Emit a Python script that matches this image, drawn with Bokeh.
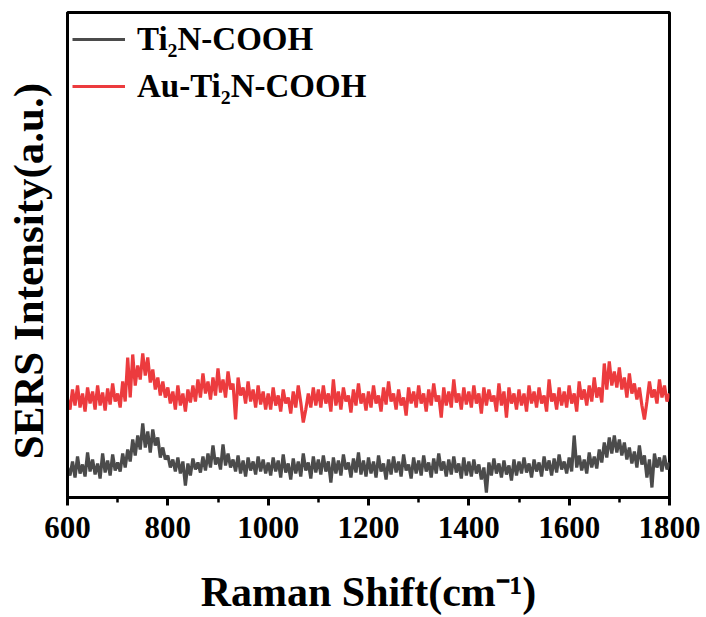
from bokeh.plotting import figure
from bokeh.models import Range1d, SingleIntervalTicker, FixedTicker, Legend, LegendItem
from bokeh.embed import file_html
from bokeh.resources import INLINE

# Raman shift grid (cm^-1), every 5 cm^-1 from 600 to 1800
raman_shift = list(range(600, 1805, 5))

# Ti2N-COOH (gray), arbitrary intensity units
ti2n_cooh = [
    30, 22, 36, 20, 41, 24, 33, 21, 45, 26, 38, 23, 34, 19, 44, 25, 37, 22, 43, 27,
    35, 26, 44, 30, 48, 36, 58, 42, 62, 48, 74, 50, 66, 45, 68, 52, 60, 40, 50, 38,
    42, 30, 38, 26, 40, 24, 36, 12, 34, 22, 39, 28, 35, 25, 41, 27, 44, 30, 52, 33,
    40, 28, 53, 32, 44, 30, 38, 26, 42, 24, 37, 21, 40, 27, 36, 23, 41, 26, 38, 24,
    35, 22, 40, 26, 37, 20, 43, 25, 34, 18, 39, 24, 36, 21, 44, 27, 35, 19, 41, 25,
    38, 23, 42, 26, 36, 15, 40, 24, 37, 22, 43, 28, 35, 20, 39, 25, 45, 23, 37, 21,
    40, 24, 36, 20, 42, 26, 34, 18, 38, 23, 41, 25, 36, 21, 43, 27, 33, 19, 40, 24,
    37, 22, 42, 26, 35, 20, 39, 24, 44, 27, 36, 21, 38, 23, 41, 25, 34, 19, 40, 22,
    36, 21, 38, 24, 33, 18, 30, 5, 35, 22, 39, 24, 34, 20, 37, 23, 32, 17, 38, 22,
    36, 24, 40, 25, 34, 20, 38, 26, 35, 21, 41, 27, 37, 22, 39, 25, 43, 28, 36, 24,
    40, 26, 62, 30, 42, 27, 38, 24, 45, 30, 41, 29, 48, 35, 55, 40, 60, 44, 62, 45,
    58, 42, 55, 38, 50, 34, 46, 30, 52, 33, 42, 20, 38, 10, 44, 30, 40, 26, 42, 28,
    35,
]

# Au-Ti2N-COOH (red), arbitrary intensity units
au_ti2n_cooh = [
    98, 88, 108, 92, 112, 90, 104, 86, 110, 94, 106, 88, 112, 92, 105, 87, 109, 93, 114, 96,
    104, 90, 116, 96, 140, 100, 143, 112, 132, 118, 144, 122, 140, 115, 128, 108, 120, 102, 116, 100,
    110, 94, 106, 88, 112, 92, 104, 86, 108, 95, 112, 96, 118, 100, 124, 104, 116, 98, 120, 102,
    129, 105, 118, 100, 126, 108, 114, 78, 120, 102, 110, 94, 116, 96, 108, 90, 112, 93, 106, 88,
    104, 88, 110, 92, 102, 86, 108, 94, 100, 84, 106, 90, 112, 95, 75, 88, 104, 90, 110, 92,
    108, 90, 112, 94, 104, 86, 118, 92, 106, 88, 110, 96, 102, 85, 108, 92, 114, 94, 104, 87,
    106, 90, 112, 94, 102, 86, 110, 93, 116, 96, 104, 88, 108, 92, 100, 82, 110, 94, 106, 90,
    112, 94, 104, 86, 108, 92, 114, 96, 102, 80, 110, 92, 106, 90, 118, 95, 104, 88, 110, 93,
    106, 90, 112, 94, 104, 84, 110, 92, 108, 96, 102, 86, 114, 92, 106, 80, 110, 94, 104, 88,
    108, 92, 104, 86, 112, 94, 106, 90, 110, 94, 102, 86, 118, 96, 104, 88, 110, 92, 106, 90,
    112, 94, 104, 86, 116, 98, 108, 92, 112, 96, 120, 100, 110, 95, 134, 108, 136, 112, 126, 110,
    130, 108, 120, 100, 124, 104, 114, 98, 110, 92, 78, 96, 116, 100, 108, 94, 118, 100, 112, 96,
    104,
]

series_labels = ["Ti\u2082N-COOH", "Au-Ti\u2082N-COOH"]
series_colors = ["#4b4b4b", "#ec3b3e"]

x_title = "Raman Shift(cm\u207b\u00b9)"
y_title = "SERS Intensity(a.u.)" + "\u00a0\u00a0\u00a0"

assert len(raman_shift) == len(ti2n_cooh) == len(au_ti2n_cooh)

FONT = "Liberation Serif"

p = figure(
    width=706, height=617,
    x_range=Range1d(600, 1800), y_range=Range1d(0, 485),
    output_backend="svg", toolbar_location=None,
    min_border_left=67, min_border_right=37, min_border_top=12, min_border_bottom=120,
)
p.grid.visible = False
p.outline_line_color = "black"
p.outline_line_width = 3
p.outline_line_alpha = 1.0
p.background_fill_color = "white"
p.border_fill_color = "white"

# x axis
xa = p.xaxis[0]
xa.ticker = SingleIntervalTicker(interval=200, num_minor_ticks=2)
xa.axis_line_width = 3
xa.axis_line_color = "black"
xa.major_tick_in = 0
xa.major_tick_out = 8
xa.major_tick_line_width = 3
xa.minor_tick_in = 0
xa.minor_tick_out = 5
xa.minor_tick_line_width = 2.5
xa.major_label_text_font = FONT
xa.major_label_text_font_style = "bold"
xa.major_label_text_font_size = "31px"
xa.major_label_text_color = "black"
xa.major_label_standoff = 11
xa.axis_label = x_title
xa.axis_label_text_font = FONT
xa.axis_label_text_font_style = "bold"
xa.axis_label_text_font_size = "42px"
xa.axis_label_text_color = "black"
xa.axis_label_standoff = 28

# y axis (no ticks, only title)
ya = p.yaxis[0]
ya.ticker = FixedTicker(ticks=[])
ya.axis_line_width = 3
ya.axis_line_color = "black"
ya.major_tick_line_color = None
ya.minor_tick_line_color = None
ya.axis_label = y_title
ya.axis_label_text_font = FONT
ya.axis_label_text_font_style = "bold"
ya.axis_label_text_font_size = "43px"
ya.axis_label_text_color = "black"
ya.axis_label_standoff = 16

r_gray = p.line(raman_shift, ti2n_cooh, line_color=series_colors[0], line_width=3.2)
r_red = p.line(raman_shift, au_ti2n_cooh, line_color=series_colors[1], line_width=3.2)

legend = Legend(
    items=[
        LegendItem(label=series_labels[0], renderers=[r_gray]),
        LegendItem(label=series_labels[1], renderers=[r_red]),
    ],
    location="top_left",
    border_line_color=None,
    background_fill_alpha=0,
    label_text_font=FONT,
    label_text_font_style="bold",
    label_text_font_size="33px",
    label_text_color="black",
    glyph_width=53, glyph_height=44, label_height=44,
    spacing=3, padding=5, margin=5, label_standoff=12,
)
p.add_layout(legend)

open("out.html", "w").write(file_html(p, INLINE))
